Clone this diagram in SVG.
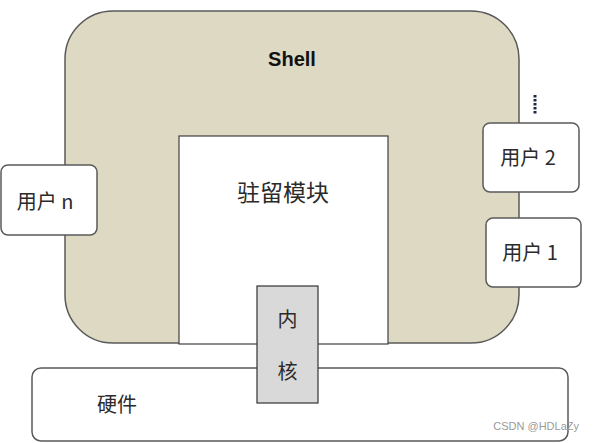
<svg xmlns="http://www.w3.org/2000/svg" width="595" height="443" viewBox="0 0 595 443">
<style>
.t{font-family:"Noto Sans CJK SC","Liberation Sans",sans-serif;fill:#2b2b2b;}
.box{fill:#ffffff;stroke:#5a5a5a;stroke-width:1.5;}
</style>
<rect width="595" height="443" fill="#ffffff"/>
<g id="shell">
<rect x="65" y="11" width="454" height="332" rx="48" ry="48" fill="#ddd9c3" stroke="#595959" stroke-width="1.5"/>
<text x="292" y="66" text-anchor="middle" font-family="Liberation Sans, sans-serif" font-weight="bold" font-size="20" fill="#111">Shell</text>
</g>
<g id="resident">
<rect x="179" y="136" width="209" height="208" fill="#ffffff" stroke="#404040" stroke-width="1.2"/>
<text class="t" x="283" y="201" text-anchor="middle" font-size="23">驻留模块</text>
</g>
<g id="hardware">
<rect class="box" x="32" y="368" width="536" height="73" rx="9" ry="9"/>
<text class="t" x="117" y="412" text-anchor="middle" font-size="20">硬件</text>
</g>
<g id="kernel">
<rect x="257" y="286" width="61" height="117" fill="#d9d9d9" stroke="#333333" stroke-width="1.2"/>
<text class="t" x="287.5" y="327" text-anchor="middle" font-size="20">内</text>
<text class="t" x="287.5" y="379" text-anchor="middle" font-size="20">核</text>
</g>
<g id="user-n">
<rect class="box" x="1" y="165" width="96" height="70" rx="7" ry="7"/>
<text class="t" x="45" y="209" text-anchor="middle" font-size="20">用户 n</text>
</g>
<g id="user-2">
<rect class="box" x="483" y="123" width="96" height="69" rx="7" ry="7"/>
<text class="t" x="528" y="165" text-anchor="middle" font-size="20">用户 2</text>
</g>
<g id="user-1">
<rect class="box" x="486" y="218" width="95" height="69" rx="7" ry="7"/>
<text class="t" x="530" y="260" text-anchor="middle" font-size="20">用户 1</text>
</g>
<g id="connectors">
<line x1="535" y1="95" x2="535" y2="115" stroke="#1e2a45" stroke-width="3" stroke-dasharray="2.5 1.5"/>
</g>
<text x="579" y="430" text-anchor="end" font-family="Liberation Sans, sans-serif" font-size="11" fill="#9a9a9a">CSDN @HDLaZy</text>
</svg>
